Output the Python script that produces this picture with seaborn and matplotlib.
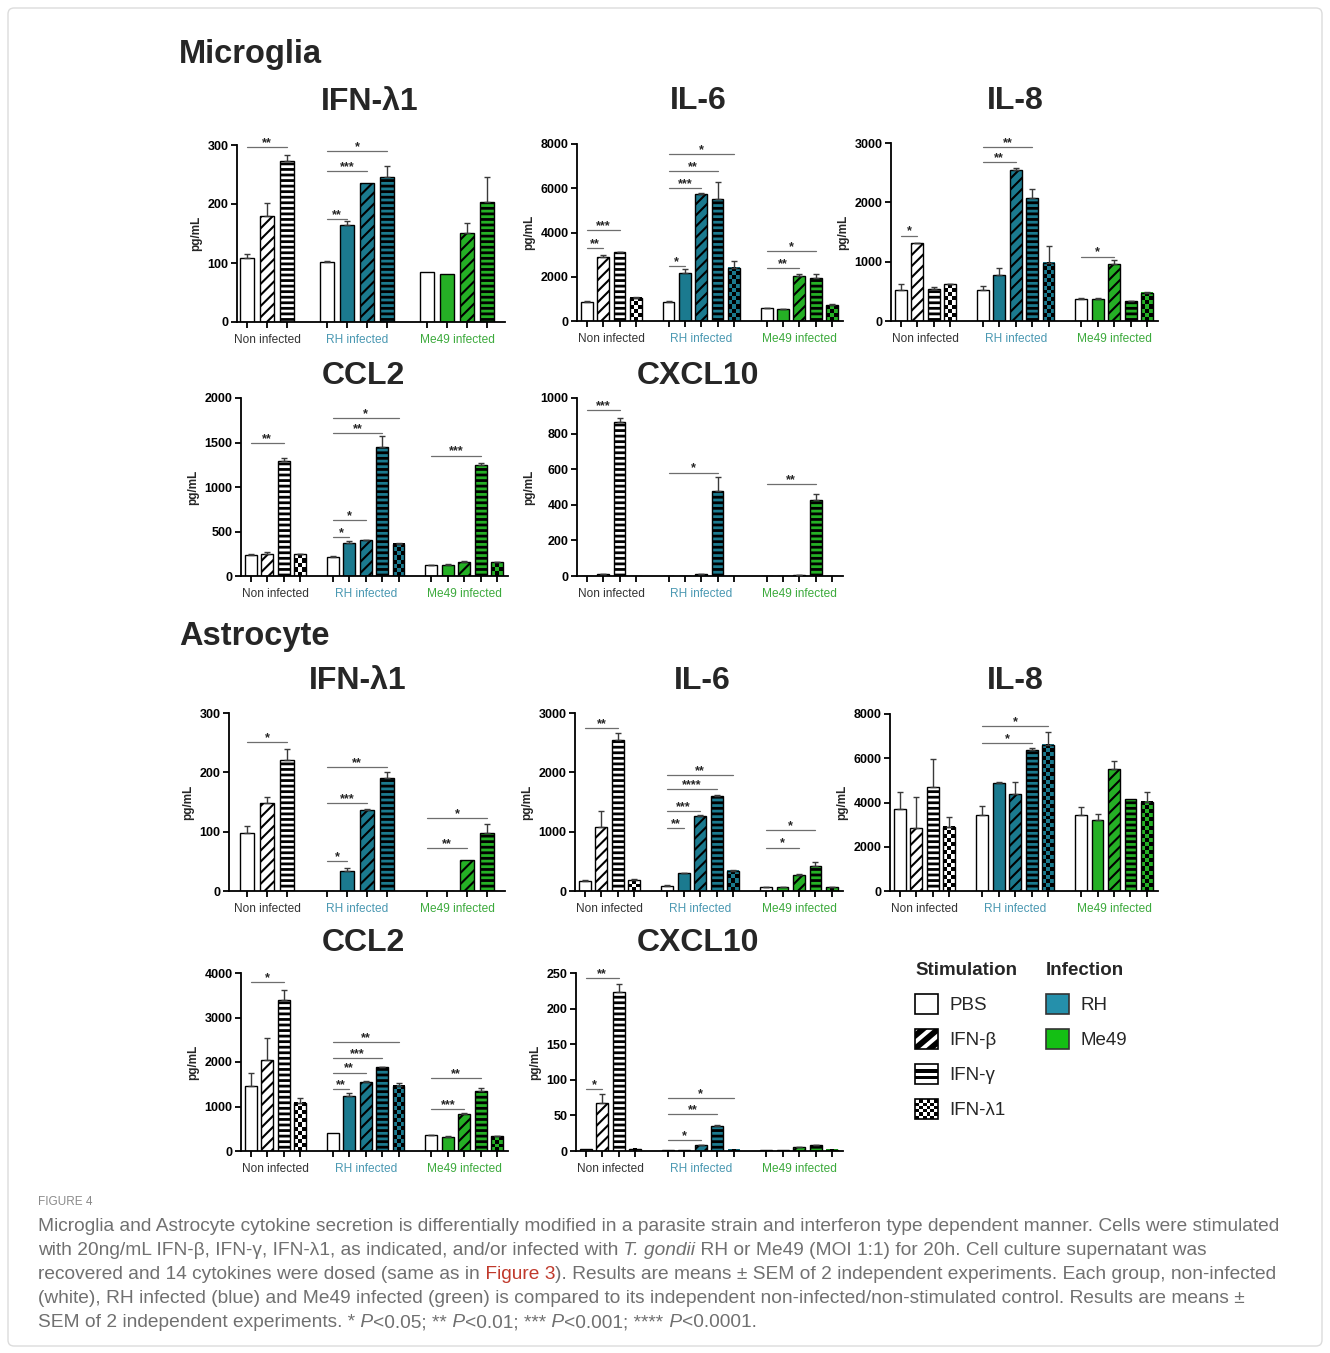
import numpy as np
import pandas as pd
import matplotlib
matplotlib.use("Agg")
import matplotlib.pyplot as plt
import seaborn as sns
from matplotlib.patches import Patch, Rectangle, FancyBboxPatch
from matplotlib.colors import ListedColormap
from matplotlib.legend_handler import HandlerBase
from matplotlib import font_manager

# ---------------------------------------------------------------- data
GROUPS = ["Non infected", "RH infected", "Me49 infected"]

FULL_STIM = ["PBS", "IFN-β", "IFN-γ", "IFN-λ1",
             "PBS", "none", "IFN-β", "IFN-γ", "IFN-λ1",
             "PBS", "none", "IFN-β", "IFN-γ", "IFN-λ1"]
FULL_INF = ["none", "none", "none", "none",
            "none", "RH", "RH", "RH", "RH",
            "none", "Me49", "Me49", "Me49", "Me49"]
FULL_SIZES = [4, 5, 5]

LAM_STIM = ["PBS", "IFN-β", "IFN-γ",
            "PBS", "none", "IFN-β", "IFN-γ",
            "PBS", "none", "IFN-β", "IFN-γ"]
LAM_INF = ["none", "none", "none",
           "none", "RH", "RH", "RH",
           "none", "Me49", "Me49", "Me49"]
LAM_SIZES = [3, 4, 4]

# Microglia
MG_IFNL1_MEAN = [108, 180, 273, 102, 164, 236, 246, 84, 82, 151, 203]
MG_IFNL1_SEM = [8, 21, 10, 1, 7, 0, 19, 0, 0, 16, 42]
MG_IFNL1_SIG = [(0, 2, 296, "**"), (3, 6, 290, "*"), (3, 5, 256, "***"), (3, 4, 174, "**")]
MG_IFNL1_YT = [0, 100, 200, 300]

MG_IL6_MEAN = [870, 2900, 3100, 1050, 870, 2150, 5720, 5500, 2410, 570, 530, 2050, 1930, 720]
MG_IL6_SEM = [30, 80, 40, 50, 30, 200, 50, 770, 320, 20, 20, 75, 190, 30]
MG_IL6_SIG = [(0, 1, 3285, "**"), (0, 2, 4113, "***"), (4, 5, 2490, "*"), (4, 6, 5996, "***"),
              (4, 7, 6780, "**"), (4, 8, 7533, "*"), (9, 11, 2410, "**"), (9, 12, 3164, "*")]
MG_IL6_YT = [0, 2000, 4000, 6000, 8000]

MG_IL8_MEAN = [523, 1311, 535, 619, 523, 777, 2550, 2071, 985, 371, 366, 957, 338, 478]
MG_IL8_SEM = [96, 10, 33, 6, 74, 123, 28, 152, 287, 23, 14, 73, 5, 12]
MG_IL8_SIG = [(0, 1, 1441, "*"), (4, 6, 2673, "**"), (4, 7, 2927, "**"), (9, 11, 1086, "*")]
MG_IL8_YT = [0, 1000, 2000, 3000]

MG_CCL2_MEAN = [240, 250, 1290, 245, 215, 370, 400, 1450, 365, 125, 125, 155, 1245, 155]
MG_CCL2_SEM = [5, 15, 40, 5, 10, 25, 5, 120, 5, 3, 5, 10, 20, 5]
MG_CCL2_SIG = [(0, 2, 1492, "**"), (4, 5, 440, "*"), (4, 6, 628, "*"), (4, 7, 1605, "**"),
               (4, 8, 1774, "*"), (9, 12, 1353, "***")]
MG_CCL2_YT = [0, 500, 1000, 1500, 2000]

MG_CXCL10_MEAN = [0, 12, 865, 0, 0, 0, 12, 475, 0, 0, 0, 5, 425, 0]
MG_CXCL10_SEM = [0, 2, 22, 0, 0, 0, 2, 80, 0, 0, 0, 1, 38, 0]
MG_CXCL10_SIG = [(0, 2, 934, "***"), (4, 7, 581, "*"), (9, 12, 517, "**")]
MG_CXCL10_YT = [0, 200, 400, 600, 800, 1000]

# Astrocyte
AS_IFNL1_MEAN = [97, 148, 221, 0, 33, 137, 190, 0, 0, 53, 97]
AS_IFNL1_SEM = [12, 11, 18, 0, 5, 2, 10, 0, 0, 0, 16]
AS_IFNL1_SIG = [(0, 2, 251, "*"), (3, 4, 50, "*"), (3, 5, 149, "***"), (3, 6, 209, "**"),
                (7, 9, 73, "**"), (7, 10, 123, "*")]
AS_IFNL1_YT = [0, 100, 200, 300]

AS_IL6_MEAN = [170, 1080, 2550, 180, 90, 298, 1265, 1600, 343, 62, 70, 270, 428, 65]
AS_IL6_SEM = [20, 270, 112, 15, 5, 5, 10, 10, 5, 3, 3, 15, 56, 3]
AS_IL6_SIG = [(0, 2, 2747, "**"), (4, 5, 1058, "**"), (4, 6, 1351, "***"), (4, 7, 1717, "****"),
              (4, 8, 1959, "**"), (9, 11, 732, "*"), (9, 12, 1030, "*")]
AS_IL6_YT = [0, 1000, 2000, 3000]

AS_IL8_MEAN = [3700, 2860, 4685, 2908, 3435, 4896, 4369, 6373, 6599, 3430, 3209, 5499, 4143, 4038]
AS_IL8_SEM = [760, 1400, 1270, 450, 410, 40, 570, 75, 570, 350, 260, 380, 0, 450]
AS_IL8_SIG = [(4, 7, 6704, "*"), (4, 8, 7458, "*")]
AS_IL8_YT = [0, 2000, 4000, 6000, 8000]

AS_CCL2_MEAN = [1463, 2049, 3385, 1088, 398, 1238, 1561, 1884, 1463, 360, 323, 833, 1351, 330]
AS_CCL2_SEM = [300, 500, 240, 112, 0, 60, 15, 10, 75, 10, 5, 10, 75, 10]
AS_CCL2_SIG = [(0, 2, 3797, "*"), (4, 5, 1388, "**"), (4, 6, 1764, "**"), (4, 7, 2086, "***"),
               (4, 8, 2439, "**"), (9, 11, 938, "***"), (9, 12, 1636, "**")]
AS_CCL2_YT = [0, 1000, 2000, 3000, 4000]

AS_CXCL10_MEAN = [3, 67, 224, 3, 2, 2, 8, 35, 2, 2, 2, 5, 8, 2]
AS_CXCL10_SEM = [0, 13, 11, 0, 0, 0, 1, 2, 0, 0, 0, 0.5, 0.5, 0]
AS_CXCL10_SIG = [(0, 1, 87, "*"), (0, 2, 243, "**"), (4, 6, 16, "*"), (4, 7, 52, "**"), (4, 8, 74, "*")]
AS_CXCL10_YT = [0, 50, 100, 150, 200, 250]

STIM_LABELS = ["PBS", "IFN-β", "IFN-γ", "IFN-λ1"]
INF_LABELS = ["RH", "Me49"]

CAPTION_TITLE = "FIGURE 4"
CAPTION_LINES = [
    [("Microglia and Astrocyte cytokine secretion is differentially modified in a parasite strain and interferon type dependent manner. Cells were stimulated", "n")],
    [("with 20ng/mL IFN-β, IFN-γ, IFN-λ1, as indicated, and/or infected with", "n"), (" T. gondii", "i"),
     (" RH or Me49 (MOI 1:1) for 20h. Cell culture supernatant was", "n")],
    [("recovered and 14 cytokines were dosed (same as in", "n"), (" Figure 3", "r"),
     ("). Results are means ± SEM of 2 independent experiments. Each group, non-infected", "n")],
    [("(white), RH infected (blue) and Me49 infected (green) is compared to its independent non-infected/non-stimulated control. Results are means ±", "n")],
    [("SEM of 2 independent experiments. *", "n"), (" P", "i"), ("<0.05; **", "n"), (" P", "i"),
     ("<0.01; ***", "n"), (" P", "i"), ("<0.001; ****", "n"), (" P", "i"), ("<0.0001.", "n")],
]

# ---------------------------------------------------------------- style
sns.set_theme(style="ticks")
plt.rcParams["font.family"] = ["Liberation Sans", "DejaVu Sans"]
plt.rcParams["hatch.linewidth"] = 1.5
plt.rcParams["axes.edgecolor"] = "black"
plt.rcParams["axes.linewidth"] = 1.3
plt.rcParams["xtick.color"] = "black"
plt.rcParams["ytick.color"] = "black"

W, H = 1330, 1353
BLUE = "#1b7a8f"
GREEN = "#25b025"
FILL = {"none": "white", "RH": BLUE, "Me49": GREEN}
GROUP_COLORS = ["#333333", "#4a98b2", "#3caa3c"]


def has_font(name):
    try:
        font_manager.findfont(font_manager.FontProperties(family=name), fallback_to_default=False)
        return True
    except Exception:
        return False


def set_hlw(p, lw):
    if hasattr(p, "set_hatch_linewidth"):
        try:
            p.set_hatch_linewidth(lw)
        except Exception:
            pass


fig = plt.figure(figsize=(W / 100, H / 100), dpi=100)
fig.patch.set_facecolor("white")

# overlay axes in pixel coordinates for free text
tax = fig.add_axes([0, 0, 1, 1])
tax.set_xlim(0, W)
tax.set_ylim(H, 0)
tax.set_axis_off()
tax.patch.set_alpha(0)
tax.add_patch(FancyBboxPatch((8, 8), W - 16, H - 15, boxstyle="round,pad=0,rounding_size=6",
                             fc="none", ec="#dcdcdc", lw=1.0))


def rect(x0, x1, ytop, ybase):
    return [x0 / W, 1 - ybase / H, (x1 - x0) / W, (ybase - ytop) / H]


def add_checker(ax, p, color):
    x0, w, h = p.get_x(), p.get_width(), p.get_height()
    if h <= 0:
        return
    a = ax.transData.transform((x0, 0))
    b = ax.transData.transform((x0 + w, h))
    ncol = max(1, int(round(abs(b[0] - a[0]) / 4.0)))
    nrow = max(1, int(round(abs(b[1] - a[1]) / 4.0)))
    arr = np.add.outer(np.arange(nrow), np.arange(ncol)) % 2
    ax.imshow(arr, extent=(x0, x0 + w, 0, h), origin="lower",
              cmap=ListedColormap([color, "black"]), vmin=0, vmax=1,
              aspect="auto", interpolation="nearest", zorder=0.9)
    p.set_facecolor("none")


def draw_panel(ax, means, sems, stim, inf, sizes, sig, yticks, xlim):
    pos = []
    start = 0
    for s in sizes:
        pos.extend(range(start, start + s))
        start += s + 1
    pos = np.array(pos, float)
    means = np.asarray(means, float)
    sems = np.asarray(sems, float)
    df = pd.DataFrame({"pos": pos, "val": means})
    sns.barplot(data=df, x="pos", y="val", native_scale=True, width=0.72, color="white",
                saturation=1, edgecolor="black", linewidth=1.0, errorbar=None, ax=ax)
    ax.set_xlim(*xlim)
    ax.set_ylim(0, yticks[-1])
    bars = sorted(ax.patches, key=lambda p: p.get_x())
    for b, st, inf_ in zip(bars, stim, inf):
        fc = FILL[inf_]
        b.set_facecolor(fc)
        b.set_edgecolor("black")
        b.set_zorder(1)
        if st == "IFN-β":
            b.set_hatch("///")
            set_hlw(b, 1.5)
        elif st == "IFN-γ":
            b.set_hatch("---")
            set_hlw(b, 2.0)
        elif st == "IFN-λ1":
            add_checker(ax, b, fc)
    m = sems > 0
    ax.errorbar(pos[m], means[m], yerr=[np.zeros(m.sum()), sems[m]], fmt="none",
                ecolor="#3a3a3a", elinewidth=1.0, capsize=2.5, capthick=1.0, zorder=3)
    for i, j, y, lab in sig:
        x1, x2 = pos[i], pos[j]
        ax.plot([x1, x2], [y, y], color="#6e6e6e", lw=0.9, clip_on=False, zorder=4)
        ax.annotate(lab, xy=((x1 + x2) / 2, y), xytext=(0, -1.5), textcoords="offset points",
                    ha="center", va="bottom", fontsize=9, fontweight="bold",
                    annotation_clip=False, zorder=4)
    ax.set_xlim(*xlim)
    ax.set_ylim(0, yticks[-1])
    ax.set_xticks(pos)
    ax.set_xticklabels([])
    ax.set_yticks(yticks, labels=[str(v) for v in yticks], fontsize=9, fontweight="bold")
    ax.tick_params(axis="both", length=4, width=1.3, pad=2, direction="out")
    ax.set_xlabel("")
    ax.set_ylabel("pg/mL", fontsize=8.5, fontweight="bold", labelpad=4)
    sns.despine(ax=ax)
    k = 0
    for g, s in enumerate(sizes):
        center = pos[k:k + s].mean()
        k += s
        ax.annotate(GROUPS[g], xy=(center, 0), xycoords=("data", "axes fraction"),
                    xytext=(0, -8.5), textcoords="offset points", ha="center", va="top",
                    fontsize=8.6, color=GROUP_COLORS[g], annotation_clip=False)


FULL_XLIM = (-0.6, 15.67)
panels = [
    # (rect px, means, sems, sig, yticks, layout, xlim, title, title center px)
    ((237, 505, 145, 322), MG_IFNL1_MEAN, MG_IFNL1_SEM, MG_IFNL1_SIG, MG_IFNL1_YT, "lam", (-0.5, 12.9), "IFN-λ1", (370, 102)),
    ((577, 843, 144, 321), MG_IL6_MEAN, MG_IL6_SEM, MG_IL6_SIG, MG_IL6_YT, "full", FULL_XLIM, "IL-6", (698, 101)),
    ((891, 1158, 143, 321), MG_IL8_MEAN, MG_IL8_SEM, MG_IL8_SIG, MG_IL8_YT, "full", FULL_XLIM, "IL-8", (1015, 101)),
    ((241, 508, 398, 576), MG_CCL2_MEAN, MG_CCL2_SEM, MG_CCL2_SIG, MG_CCL2_YT, "full", FULL_XLIM, "CCL2", (363, 376)),
    ((577, 843, 398, 576), MG_CXCL10_MEAN, MG_CXCL10_SEM, MG_CXCL10_SIG, MG_CXCL10_YT, "full", FULL_XLIM, "CXCL10", (698, 376)),
    ((229, 505, 713, 891), AS_IFNL1_MEAN, AS_IFNL1_SEM, AS_IFNL1_SIG, AS_IFNL1_YT, "lam", (-0.9, 12.9), "IFN-λ1", (358, 681)),
    ((575, 843, 713, 891), AS_IL6_MEAN, AS_IL6_SEM, AS_IL6_SIG, AS_IL6_YT, "full", FULL_XLIM, "IL-6", (702, 681)),
    ((890, 1158, 714, 891), AS_IL8_MEAN, AS_IL8_SEM, AS_IL8_SIG, AS_IL8_YT, "full", FULL_XLIM, "IL-8", (1015, 681)),
    ((241, 508, 973, 1151), AS_CCL2_MEAN, AS_CCL2_SEM, AS_CCL2_SIG, AS_CCL2_YT, "full", FULL_XLIM, "CCL2", (363, 943)),
    ((576, 843, 973, 1151), AS_CXCL10_MEAN, AS_CXCL10_SEM, AS_CXCL10_SIG, AS_CXCL10_YT, "full", FULL_XLIM, "CXCL10", (698, 943)),
]

for r, mean, sem, sig, yt, layout, xlim, title, tpos in panels:
    ax = fig.add_axes(rect(*r))
    ax.patch.set_alpha(0)
    if layout == "full":
        draw_panel(ax, mean, sem, FULL_STIM, FULL_INF, FULL_SIZES, sig, yt, xlim)
    else:
        draw_panel(ax, mean, sem, LAM_STIM, LAM_INF, LAM_SIZES, sig, yt, xlim)
    tax.text(tpos[0], tpos[1], title, ha="center", va="center", fontsize=23, fontweight="bold")

tax.text(179, 55, "Microglia", ha="left", va="center", fontsize=23.5, fontweight="bold")
tax.text(179, 636, "Astrocyte", ha="left", va="center", fontsize=23.5, fontweight="bold")


# ---------------------------------------------------------------- legends
class CheckerPatch(Patch):
    pass


class HStripePatch(Patch):
    pass


class DiagPatch(Patch):
    pass


class CheckerHandler(HandlerBase):
    def create_artists(self, legend, orig_handle, xdescent, ydescent, width, height, fontsize, trans):
        x0, y0 = -xdescent, -ydescent
        n = 6
        cw, ch = width / n, height / n
        arts = [Rectangle((x0, y0), width, height, fc="white", ec="none", transform=trans)]
        for i in range(n):
            for j in range(n):
                if (i + j) % 2 == 0:
                    arts.append(Rectangle((x0 + i * cw, y0 + j * ch), cw, ch, fc="black", ec="none", transform=trans))
        arts.append(Rectangle((x0, y0), width, height, fc="none", ec="black", lw=1.2, transform=trans))
        return arts


class HStripeHandler(HandlerBase):
    def create_artists(self, legend, orig_handle, xdescent, ydescent, width, height, fontsize, trans):
        x0, y0 = -xdescent, -ydescent
        arts = [Rectangle((x0, y0), width, height, fc="white", ec="black", lw=1.2, transform=trans)]
        for f in (1 / 3, 2 / 3):
            arts.append(Rectangle((x0, y0 + f * height - 0.09 * height), width, 0.18 * height,
                                  fc="black", ec="none", transform=trans))
        return arts


class DiagHandler(HandlerBase):
    def create_artists(self, legend, orig_handle, xdescent, ydescent, width, height, fontsize, trans):
        x0, y0 = -xdescent, -ydescent
        arts = [Rectangle((x0, y0), width, height, fc="white", ec="none", transform=trans)]
        box = Rectangle((x0, y0), width, height, fc="none", ec="black", lw=1.2, transform=trans)
        for k in (-0.66, 0.0, 0.66):
            ln = matplotlib.lines.Line2D([x0 + (k - 0.1) * width, x0 + (k + 1.1) * width],
                                         [y0 - 0.1 * height, y0 + 1.1 * height],
                                         color="black", lw=4.2, transform=trans, solid_capstyle="butt")
            ln.set_clip_box(matplotlib.transforms.TransformedBbox(
                matplotlib.transforms.Bbox.from_bounds(x0, y0, width, height), trans))
            arts.append(ln)
        arts.append(box)
        return arts


stim_handles = [Patch(fc="white", ec="black", lw=1.2),
                DiagPatch(fc="white", ec="black"),
                HStripePatch(fc="white", ec="black"),
                CheckerPatch(fc="white", ec="black")]
inf_handles = [Patch(fc="#2590ab", ec="#333333", lw=1.2), Patch(fc="#14bf14", ec="#333333", lw=1.2)]

leg_kw = dict(loc="upper left", frameon=False, borderpad=0, borderaxespad=0,
              handlelength=1.23, handleheight=1.23, handletextpad=0.62, labelspacing=0.8,
              fontsize=13.5, title_fontproperties={"weight": "bold", "size": 13.5}, alignment="left",
              handler_map={CheckerPatch: CheckerHandler(), HStripePatch: HStripeHandler(),
                           DiagPatch: DiagHandler()})
leg1 = fig.legend(stim_handles, STIM_LABELS, title="Stimulation",
                  bbox_to_anchor=(915 / W, 1 - 962 / H), **leg_kw)
leg2 = fig.legend(inf_handles, INF_LABELS, title="Infection",
                  bbox_to_anchor=(1046 / W, 1 - 962 / H), **leg_kw)

# ---------------------------------------------------------------- caption
cap_family = "Liberation Sans Narrow" if has_font("Liberation Sans Narrow") else "Liberation Sans"
CAP_COLOR = "#707070"
tax.text(38, 1202, CAPTION_TITLE, ha="left", va="center", fontsize=8.5, color="#8a8a8a",
         family=[cap_family, "DejaVu Sans"])

renderer = fig.canvas.get_renderer()
probe = tax.text(0, 0, CAPTION_LINES[0][0][0], fontsize=12, family=[cap_family, "DejaVu Sans"])
wpx = probe.get_window_extent(renderer).width
probe.remove()
cap_fs = 12 * 1249 / wpx

for li, pieces in enumerate(CAPTION_LINES):
    y = 1226 + 24 * li + 5
    prev = None
    for txt, sty in pieces:
        kw = dict(fontsize=cap_fs, family=[cap_family, "DejaVu Sans"],
                  color="#c0392b" if sty == "r" else CAP_COLOR,
                  style="italic" if sty == "i" else "normal")
        if prev is None:
            prev = tax.text(38, y, txt, ha="left", va="baseline", **kw)
        else:
            prev = tax.annotate(txt, xy=(1, 0), xycoords=prev, ha="left", va="bottom", **kw)

fig.savefig("out.png", dpi=100, facecolor="white")
